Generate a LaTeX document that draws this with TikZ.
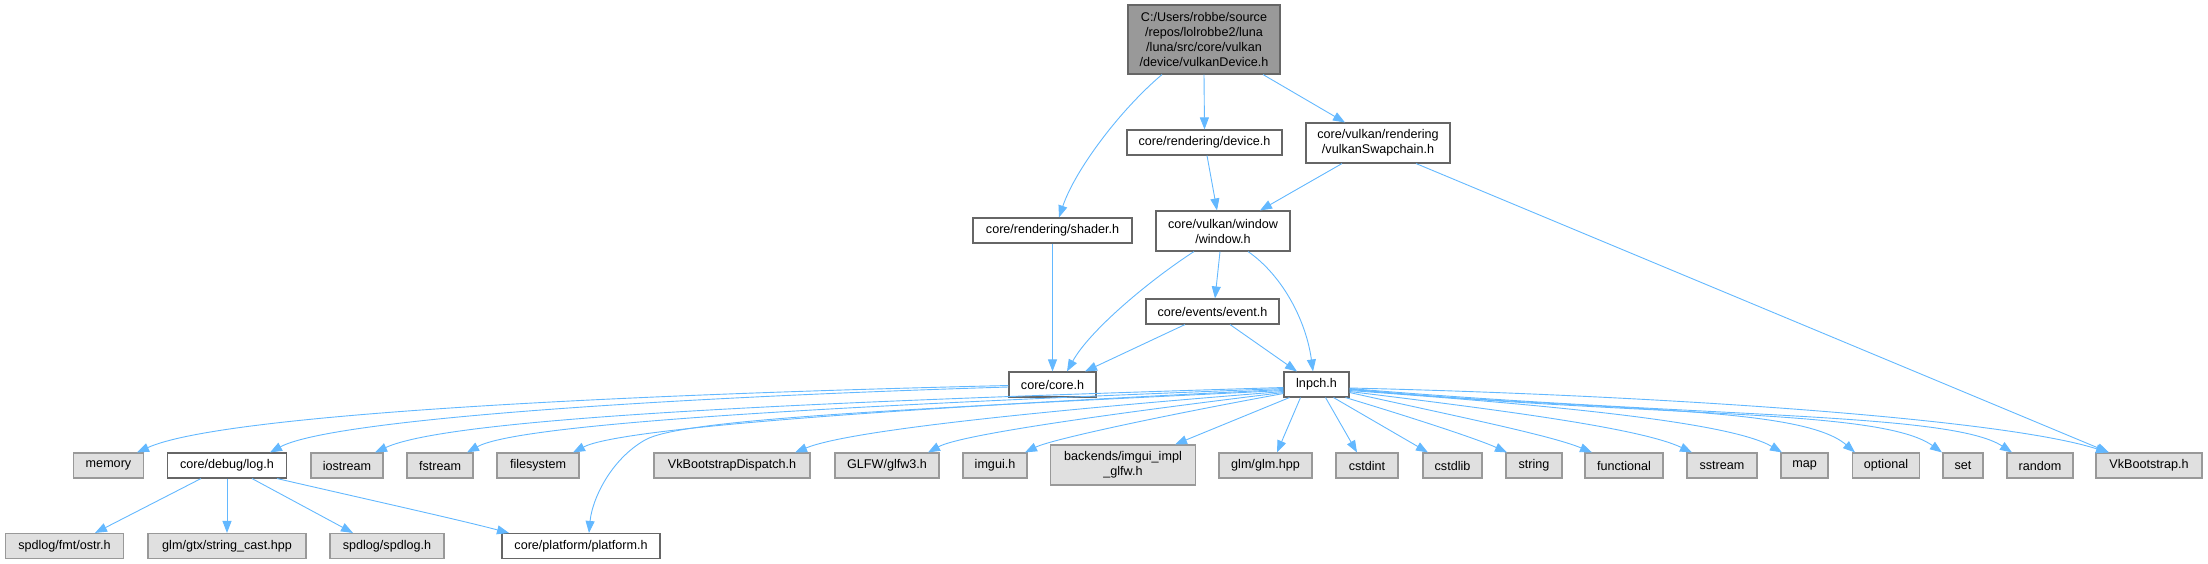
\documentclass[tikz,border=0pt]{standalone}
\usepackage{fontspec}
\setmainfont{Liberation Sans}
\usetikzlibrary{arrows.meta}
\definecolor{edgeblue}{HTML}{63B8FF}
\definecolor{grayfill}{HTML}{E0E0E0}
\definecolor{grayborder}{HTML}{999999}
\definecolor{darkborder}{HTML}{666666}
\definecolor{rootfill}{HTML}{999999}
\begin{document}
\begin{tikzpicture}[x=1pt,y=-1pt,
  every node/.style={font=\fontsize{12.6}{15}\selectfont, inner sep=0pt, align=center, minimum height=25pt},
  wbox/.style={draw=darkborder, fill=white, line width=1.1pt},
  gbox/.style={draw=grayborder, fill=grayfill, line width=1.1pt},
  rbox/.style={draw=darkborder, fill=rootfill, line width=1.1pt},
  dep/.style={draw=edgeblue, line width=0.9pt, -{Triangle[length=12pt,width=9pt]}}
]
\useasboundingbox (0,0) rectangle (2208,564);

% upper part
\node[rbox, minimum width=152pt, minimum height=69pt] (root) at (1204,39.5) {C:/Users/robbe/source\\/repos/lolrobbe2/luna\\/luna/src/core/vulkan\\/device/vulkanDevice.h};
\node[wbox, minimum width=155pt] (device) at (1204.5,142.5) {core/rendering/device.h};
\node[wbox, minimum width=144pt, minimum height=40pt] (swap) at (1378,143) {core/vulkan/rendering\\/vulkanSwapchain.h};
\node[wbox, minimum width=159pt] (shader) at (1052.5,230.5) {core/rendering/shader.h};
\node[wbox, minimum width=134pt, minimum height=40pt] (window) at (1223,231) {core/vulkan/window\\/window.h};
\node[wbox, minimum width=133pt] (event) at (1212.5,311.5) {core/events/event.h};
\node[wbox, minimum width=87pt] (core) at (1052.5,384.5) {core/core.h};
\node[wbox, minimum width=65pt] (lnpch) at (1316.5,384.5) {lnpch.h};

% row of includes
\node[gbox, minimum width=70pt] (memory) at (108.5,465.5) {memory};
\node[wbox, minimum width=119pt] (log) at (227,465.5) {core/debug/log.h};
\node[gbox, minimum width=72pt] (iostream) at (347,465.5) {iostream};
\node[gbox, minimum width=66pt] (fstream) at (440,465.5) {fstream};
\node[gbox, minimum width=82pt] (filesystem) at (538,465.5) {filesystem};
\node[gbox, minimum width=156pt] (vkbd) at (732,465.5) {VkBootstrapDispatch.h};
\node[gbox, minimum width=104pt] (glfw) at (887,465.5) {GLFW/glfw3.h};
\node[gbox, minimum width=64pt] (imgui) at (995,465.5) {imgui.h};
\node[gbox, minimum width=145pt, minimum height=40pt] (backends) at (1123,465) {backends/imgui\_impl\\\_glfw.h};
\node[gbox, minimum width=93pt] (glm) at (1265.5,465.5) {glm/glm.hpp};
\node[gbox, minimum width=62pt] (cstdint) at (1367,465.5) {cstdint};
\node[gbox, minimum width=59pt] (cstdlib) at (1452.5,465.5) {cstdlib};
\node[gbox, minimum width=56pt] (string) at (1534,465.5) {string};
\node[gbox, minimum width=78pt] (functional) at (1624,465.5) {functional};
\node[gbox, minimum width=70pt] (sstream) at (1722,465.5) {sstream};
\node[gbox, minimum width=47pt] (map) at (1804.5,465.5) {map};
\node[gbox, minimum width=67pt] (optional) at (1886,465.5) {optional};
\node[gbox, minimum width=40pt] (set) at (1963,465.5) {set};
\node[gbox, minimum width=66pt] (random) at (2040,465.5) {random};
\node[gbox, minimum width=106pt] (vkb) at (2149,465.5) {VkBootstrap.h};

% bottom row
\node[gbox, minimum width=118pt] (ostr) at (64.5,546) {spdlog/fmt/ostr.h};
\node[gbox, minimum width=158pt] (strcast) at (227,546) {glm/gtx/string\_cast.hpp};
\node[gbox, minimum width=114pt] (spdlog) at (387,546) {spdlog/spdlog.h};
\node[wbox, minimum width=158pt] (platform) at (581,546) {core/platform/platform.h};

% edges from root
\draw[dep] ([xshift=-42pt]root.south) .. controls (1120,110) and (1075,170) .. ([xshift=6.5pt]shader.north);
\draw[dep] (root.south) -- (device.north);
\draw[dep] ([xshift=59pt]root.south) -- ([xshift=-33pt]swap.north);
% device, swapchain
\draw[dep] ([xshift=2.5pt]device.south) -- ([xshift=-6pt]window.north);
\draw[dep] ([xshift=-36pt]swap.south) -- ([xshift=37pt]window.north);
\draw[dep] ([xshift=38pt]swap.south) -- ([xshift=-40pt]vkb.north);
% shader, window, event
\draw[dep] (shader.south) -- (core.north);
\draw[dep] ([xshift=-29pt]window.south) .. controls (1150,280) and (1090,330) .. ([xshift=14.5pt]core.north);
\draw[dep] ([xshift=-3pt]window.south) -- ([xshift=2.5pt]event.north);
\draw[dep] ([xshift=25pt]window.south) .. controls (1282,275) and (1306,320) .. ([xshift=-3.5pt]lnpch.north);
\draw[dep] ([xshift=-27.5pt]event.south) -- ([xshift=32.5pt]core.north);
\draw[dep] ([xshift=17.5pt]event.south) -- ([xshift=-19.5pt]lnpch.north);
% core
\draw[dep] ([yshift=-1pt]core.west) .. controls (600,395) and (220,415) .. ([xshift=28.5pt]memory.north);
\draw[dep] ([yshift=-2.5pt]core.west) .. controls (650,398) and (330,420) .. ([xshift=43pt]log.north);
% lnpch leftwards
\draw[dep] ([yshift=-3pt]lnpch.west) .. controls (800,402) and (450,418) .. ([xshift=28pt]iostream.north);
\draw[dep] ([yshift=-4pt]lnpch.west) .. controls (850,405) and (520,423) .. ([xshift=27pt]fstream.north);
\draw[dep] ([yshift=-5pt]lnpch.west) .. controls (900,408) and (620,428) .. ([xshift=35pt]filesystem.north);
\draw[dep] ([yshift=-6pt]lnpch.west) .. controls (880,410) and (680,420) .. (645,440) .. controls (610,460) and (592,500) .. ([xshift=8pt]platform.north);
\draw[dep] ([yshift=-7pt]lnpch.west) .. controls (1050,410) and (850,430) .. ([xshift=63pt]vkbd.north);
\draw[dep] ([yshift=-8pt]lnpch.west) .. controls (1100,415) and (960,435) .. ([xshift=41pt]glfw.north);
\draw[dep] ([yshift=-9pt]lnpch.west) .. controls (1150,418) and (1050,440) .. ([xshift=30pt]imgui.north);
\draw[dep] ([xshift=-27pt]lnpch.south) -- ([xshift=52pt]backends.north);
\draw[dep] ([xshift=-16pt]lnpch.south) -- ([xshift=11.5pt]glm.north);
% lnpch downwards / rightwards
\draw[dep] ([xshift=9pt]lnpch.south) -- ([xshift=-10pt]cstdint.north);
\draw[dep] ([xshift=17pt]lnpch.south) -- ([xshift=-24.5pt]cstdlib.north);
\draw[dep] ([xshift=29pt]lnpch.south) .. controls (1420,420) and (1480,440) .. ([xshift=-27pt]string.north);
\draw[dep] ([yshift=-8pt]lnpch.east) .. controls (1450,415) and (1550,435) .. ([xshift=-32pt]functional.north);
\draw[dep] ([yshift=-7pt]lnpch.east) .. controls (1500,410) and (1640,428) .. ([xshift=-30pt]sstream.north);
\draw[dep] ([yshift=-6pt]lnpch.east) .. controls (1550,405) and (1730,422) .. ([xshift=-22.5pt]map.north);
\draw[dep] ([yshift=-5pt]lnpch.east) .. controls (1600,412) and (1800,405) .. ([xshift=-31pt]optional.north);
\draw[dep] ([yshift=-4.5pt]lnpch.east) .. controls (1650,418) and (1880,408) .. ([xshift=-21pt]set.north);
\draw[dep] ([yshift=-4pt]lnpch.east) .. controls (1700,418) and (1950,412) .. ([xshift=-28pt]random.north);
\draw[dep] ([yshift=-3.5pt]lnpch.east) .. controls (1650,395) and (2000,418) .. ([xshift=-41pt]vkb.north);
% log
\draw[dep] ([xshift=-26pt]log.south) -- ([xshift=30.5pt]ostr.north);
\draw[dep] (log.south) -- (strcast.north);
\draw[dep] ([xshift=25pt]log.south) -- ([xshift=-34pt]spdlog.north);
\draw[dep] ([xshift=50pt]log.south) .. controls (370,500) and (460,520) .. ([xshift=-72pt]platform.north);
\end{tikzpicture}
\end{document}
